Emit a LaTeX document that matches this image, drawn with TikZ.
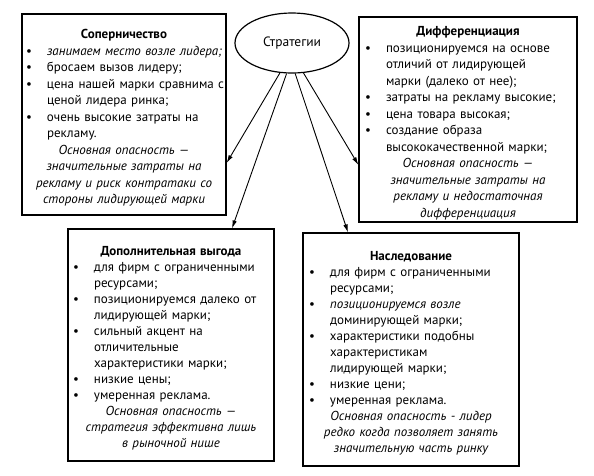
\documentclass[tikz,border=0pt]{standalone}
\usepackage{fontspec}
\setmainfont{PT Sans}
\usetikzlibrary{shapes.geometric,arrows.meta}
\newcommand{\bl}[1]{\par\noindent\makebox[21pt][l]{\textbullet}\mbox{#1}}
\newcommand{\cl}[1]{\par\noindent\hspace*{21pt}\mbox{#1}}
\newcommand{\ttl}[1]{\par{\centering\bfseries #1\par}}
\newcommand{\rsk}[1]{\par{\centering\itshape #1\par}}
\tikzset{
  box/.style={draw=black, line width=1.2pt, inner sep=0pt, rectangle},
  txt/.style={inner sep=0pt, align=left, font={\fontsize{13}{16.5}\selectfont}},
  txtb/.style={inner sep=0pt, align=left, font={\fontsize{13}{16}\selectfont}},
  arr/.style={line width=0.9pt, -{Latex[length=8pt,width=4.5pt]}},
}
\begin{document}
\begin{tikzpicture}[x=1pt,y=-1pt]
\useasboundingbox (0,0) rectangle (594,475);
\fill[white] (0,0) rectangle (594,475);

\node[draw=black, line width=1.2pt, ellipse, minimum width=114pt, minimum height=60pt, inner sep=0pt,
      font={\fontsize{13.5}{15}\selectfont}] (s) at (292,43) {Стратегии};

\node[box, minimum width=204pt, minimum height=201pt] (b1) at (124,114.5) {};
\node[box, minimum width=218pt, minimum height=205pt] (b2) at (468,119.5) {};
\node[box, minimum width=206pt, minimum height=232pt] (b3) at (171,345) {};
\node[box, minimum width=216pt, minimum height=233pt] (b4) at (411,349.5) {};

\node[txt, text width=196pt] (t1) at (b1.center) {%
\ttl{Соперничество}
\bl{\itshape занимаем место возле лидера;}
\bl{бросаем вызов лидеру;}
\bl{цена нашей марки сравнима с}
\cl{ценой лидера ринка;}
\bl{очень высокие затраты на}
\cl{рекламу.}
\rsk{Основная опасность —\\значительные затраты на\\рекламу и риск контратаки со\\стороны лидирующей марки}};

\node[txt, text width=206pt] (t2) at (b2.center) {%
\ttl{Дифференциация}
\bl{позиционируемся на основе}
\cl{отличий от лидирующей}
\cl{марки (далеко от нее);}
\bl{затраты на рекламу высокие;}
\bl{цена товара высокая;}
\bl{создание образа}
\cl{высококачественной марки;}
\rsk{Основная опасность —\\значительные затраты на\\рекламу и недостаточная\\дифференциация}};

\node[txtb, text width=196pt] (t3) at (b3.center) {%
\ttl{Дополнительная выгода}
\bl{для фирм с ограниченными}
\cl{ресурсами;}
\bl{позиционируемся далеко от}
\cl{лидирующей марки;}
\bl{сильный акцент на}
\cl{отличительные}
\cl{характеристики марки;}
\bl{низкие цены;}
\bl{умеренная реклама.}
\rsk{Основная опасность —\\стратегия эффективна лишь\\в рыночной нише}};

\node[txtb, text width=204pt] (t4) at (b4.center) {%
\ttl{Наследование}
\bl{для фирм с ограниченными}
\cl{ресурсами;}
\bl{\itshape позиционируемся возле}
\cl{доминирующей марки;}
\bl{характеристики подобны}
\cl{характеристикам}
\cl{лидирующей марки;}
\bl{низкие цени;}
\bl{умеренная реклама.}
\rsk{Основная опасность - лидер\\редко когда позволяет занять\\значительную часть ринку}};

\draw[arr] (s.-112) -- ([yshift=-48.5pt]b1.east);
\draw[arr] (s.-100) -- ([xshift=61pt]b3.north);
\draw[arr] (s.-84) -- ([xshift=-63pt]b4.north);
\draw[arr] (s.-69) -- ([yshift=-45.5pt]b2.west);
\end{tikzpicture}
\end{document}
